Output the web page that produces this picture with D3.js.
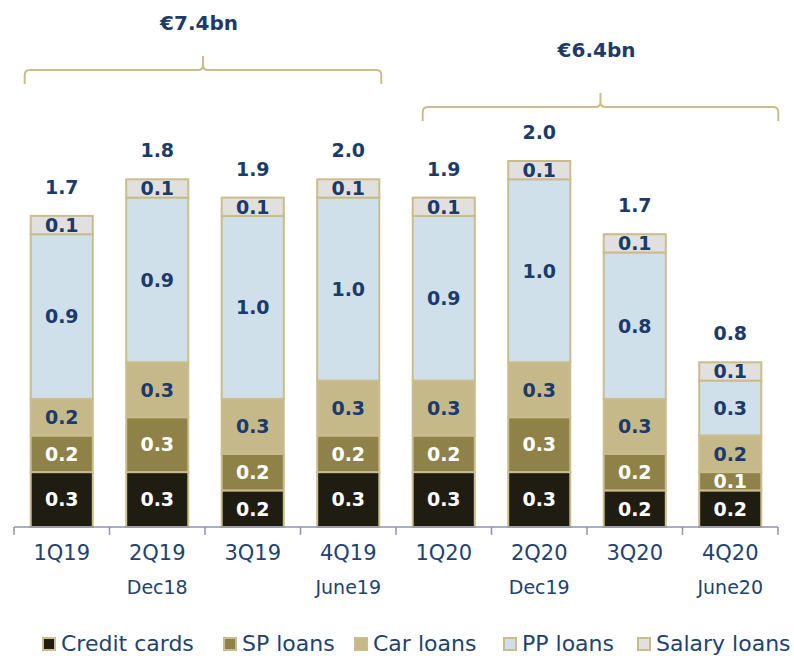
<!DOCTYPE html>
<html>
<head>
<meta charset="utf-8">
<script src="https://cdn.jsdelivr.net/npm/d3@7"></script>
<style>
  html, body { margin: 0; padding: 0; background: #ffffff; }
  svg { display: block; }
  text { font-family: "DejaVu Sans", "Noto Sans", sans-serif; }
</style>
</head>
<body>
<svg id="chart" width="794" height="656"></svg>
<script>
// Quarterly new lending by product (€bn)
const quarters   = ["1Q19", "2Q19", "3Q19", "4Q19", "1Q20", "2Q20", "3Q20", "4Q20"];
const subLabels  = ["", "Dec18", "", "June19", "", "Dec19", "", "June20"];
const series     = ["Credit cards", "SP loans", "Car loans", "PP loans", "Salary loans"];
const creditCards = [0.3, 0.3, 0.2, 0.3, 0.3, 0.3, 0.2, 0.2];
const spLoans     = [0.2, 0.3, 0.2, 0.2, 0.2, 0.3, 0.2, 0.1];
const carLoans    = [0.2, 0.3, 0.3, 0.3, 0.3, 0.3, 0.3, 0.2];
const ppLoans     = [0.9, 0.9, 1.0, 1.0, 0.9, 1.0, 0.8, 0.3];
const salaryLoans = [0.1, 0.1, 0.1, 0.1, 0.1, 0.1, 0.1, 0.1];
const totals      = [1.7, 1.8, 1.9, 2.0, 1.9, 2.0, 1.7, 0.8];
const yearGroups  = [
  { label: "€7.4bn", from: "1Q19", to: "4Q19" },
  { label: "€6.4bn", from: "1Q20", to: "4Q20" }
];

const fills     = ["#1f1c12", "#8f8249", "#c5b98a", "#cfe0eb", "#e1e0de"];
const textFills = ["#ffffff", "#ffffff", "#1c3a6a", "#1c3a6a", "#1c3a6a"];
const navy = "#1c3a6a";
const labelNavy = "#22426f";
const khaki = "#c9bd8e";

const svg = d3.select("#chart");
const baseY = 527;

const x = d3.scaleBand().domain(quarters).range([14, 778])
  .paddingInner(0.35).paddingOuter(0.175);
const y = d3.scaleLinear().domain([0, 2]).range([baseY, baseY - 366]);

const rows = quarters.map((q, i) => ({
  quarter: q,
  "Credit cards": creditCards[i],
  "SP loans": spLoans[i],
  "Car loans": carLoans[i],
  "PP loans": ppLoans[i],
  "Salary loans": salaryLoans[i]
}));
const stacked = d3.stack().keys(series)(rows);

// stacked segments
const layer = svg.append("g").selectAll("g").data(stacked).join("g")
  .attr("fill", (d, i) => fills[i]);
layer.selectAll("rect").data(d => d).join("rect")
  .attr("x", d => x(d.data.quarter))
  .attr("width", x.bandwidth())
  .attr("y", d => y(d[1]))
  .attr("height", d => y(d[0]) - y(d[1]))
  .attr("stroke", khaki).attr("stroke-width", 2);

// segment value labels
stacked.forEach((s, si) => {
  svg.append("g").selectAll("text").data(s).join("text")
    .attr("x", d => x(d.data.quarter) + x.bandwidth() / 2)
    .attr("y", d => (y(d[0]) + y(d[1])) / 2)
    .attr("dy", "0.36em")
    .attr("text-anchor", "middle")
    .attr("font-size", 19).attr("font-weight", "bold")
    .attr("fill", textFills[si])
    .text(d => d3.format(".1f")(d[1] - d[0]));
});

// totals above bars
svg.append("g").selectAll("text").data(rows).join("text")
  .attr("x", d => x(d.quarter) + x.bandwidth() / 2)
  .attr("y", (d, i) => y(stacked[stacked.length - 1][i][1]) - 22)
  .attr("text-anchor", "middle")
  .attr("font-size", 19).attr("font-weight", "bold")
  .attr("fill", navy)
  .text((d, i) => d3.format(".1f")(totals[i]));

// category axis
const axis = svg.append("g").attr("stroke", "#8b94aa").attr("stroke-width", 1.5);
axis.append("line").attr("x1", 14).attr("x2", 778).attr("y1", baseY).attr("y2", baseY);
const edges = quarters.map(q => x(q) - x.step() * x.paddingInner() / 2)
  .concat([x(quarters[quarters.length - 1]) + x.bandwidth() + x.step() * x.paddingInner() / 2]);
axis.selectAll("line.tick").data(edges).join("line").attr("class", "tick")
  .attr("x1", d => d).attr("x2", d => d).attr("y1", baseY).attr("y2", baseY + 8);

svg.append("g").selectAll("text").data(quarters).join("text")
  .attr("x", d => x(d) + x.bandwidth() / 2).attr("y", 560)
  .attr("text-anchor", "middle").attr("font-size", 21).attr("fill", labelNavy)
  .text(d => d);
svg.append("g").selectAll("text").data(subLabels).join("text")
  .attr("x", (d, i) => x(quarters[i]) + x.bandwidth() / 2).attr("y", 594)
  .attr("text-anchor", "middle").attr("font-size", 19).attr("fill", labelNavy)
  .text(d => d);

// year brackets
function bracketPath(x0, x1, yTop, depth, peak) {
  const xm = (x0 + x1) / 2, r = 5;
  return `M${x0},${yTop + depth} L${x0},${yTop + r} Q${x0},${yTop} ${x0 + r},${yTop}` +
    ` L${xm - r},${yTop} Q${xm},${yTop} ${xm},${yTop - r} L${xm},${yTop - peak}` +
    ` M${xm},${yTop - r} Q${xm},${yTop} ${xm + r},${yTop} L${x1 - r},${yTop}` +
    ` Q${x1},${yTop} ${x1},${yTop + r} L${x1},${yTop + depth}`;
}
const bracketSpecs = [
  { x0: x(yearGroups[0].from) - 6, x1: x(yearGroups[0].to) + x.bandwidth() + 2, yTop: 70, textY: 30 },
  { x0: x(yearGroups[1].from) + 10, x1: x(yearGroups[1].to) + x.bandwidth() + 17, yTop: 107, textY: 57 }
];
yearGroups.forEach((g, i) => {
  const b = bracketSpecs[i];
  svg.append("path").attr("d", bracketPath(b.x0, b.x1, b.yTop, 14, 14))
    .attr("fill", "none").attr("stroke", khaki).attr("stroke-width", 2);
  svg.append("text").attr("x", (b.x0 + b.x1) / 2 - 4).attr("y", b.textY)
    .attr("text-anchor", "middle").attr("font-size", 20).attr("font-weight", "bold")
    .attr("fill", navy).text(g.label);
});

// legend
const legendX = [42, 223, 354, 503, 637];
const legend = svg.append("g").selectAll("g").data(series).join("g")
  .attr("transform", (d, i) => `translate(${legendX[i]},637)`);
legend.append("rect").attr("x", 1).attr("y", 1).attr("width", 12).attr("height", 12)
  .attr("fill", (d, i) => fills[i]).attr("stroke", khaki).attr("stroke-width", 2);
legend.append("text").attr("x", 19).attr("y", 14)
  .attr("font-size", 22).attr("fill", labelNavy).text(d => d);
</script>
</body>
</html>
